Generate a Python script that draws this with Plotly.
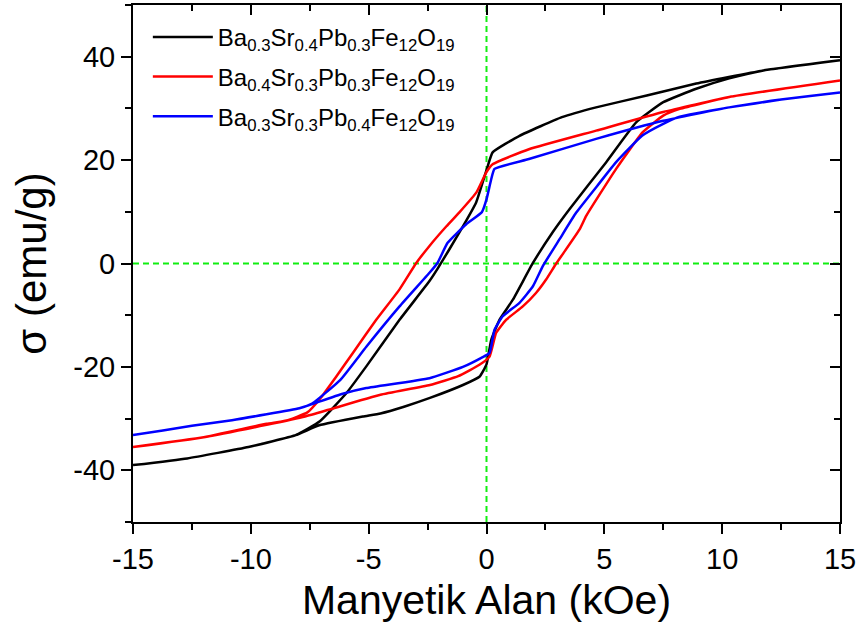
import plotly.graph_objects as go

# ---------------- data ----------------
series_names = [
    "Ba<sub>0.3</sub>Sr<sub>0.4</sub>Pb<sub>0.3</sub>Fe<sub>12</sub>O<sub>19</sub>",
    "Ba<sub>0.4</sub>Sr<sub>0.3</sub>Pb<sub>0.3</sub>Fe<sub>12</sub>O<sub>19</sub>",
    "Ba<sub>0.3</sub>Sr<sub>0.3</sub>Pb<sub>0.4</sub>Fe<sub>12</sub>O<sub>19</sub>",
]
series_colors = ["#000000", "#ff0000", "#0000ff"]

# black: Ba0.3Sr0.4Pb0.3  (upper branch: field decreasing, lower branch: field increasing)
H_up_black = [15, 11.7, 8.9, 6.8, 4.65, 3.2, 1.4, 0.26, 0.05, -0.44, -1.15, -2.1, -2.42, -3.69, -5.1, -5.95, -7.07, -8.1, -10.1, -12.7, -15]
M_up_black = [39.3, 37.3, 34.8, 32.5, 30.2, 28.3, 24.7, 21.5, 18.8, 11.8, 6.0, -1.2, -3.4, -10.9, -19.9, -25.1, -30.5, -33.2, -35.5, -37.7, -39.0]
H_lo_black = [-15, -12.7, -10.1, -8.1, -7.1, -5.25, -4.5, -3.5, -2.4, -1.0, -0.3, 0.0, 0.2, 0.55, 1.12, 1.97, 2.8, 3.52, 5.08, 6.35, 7.5, 8.9, 10.3, 11.7, 15]
M_lo_black = [-39.0, -37.7, -35.5, -33.2, -31.3, -29.6, -29.0, -27.7, -26.0, -23.5, -21.9, -19.5, -14.8, -10.9, -7.0, 0.1, 6.0, 10.5, 19.6, 27.3, 31.2, 33.8, 35.8, 37.3, 39.3]

# red: Ba0.4Sr0.3Pb0.3
H_up_red = [15, 10.3, 7.5, 4.65, 1.8, 0.26, 0.0, -0.42, -1.15, -1.7, -2.42, -2.98, -3.69, -4.68, -5.67, -6.38, -7.07, -7.6, -8.5, -9.33, -12, -15]
M_up_red = [35.4, 32.2, 29.3, 25.7, 22.1, 19.2, 17.7, 13.8, 9.9, 7.2, 3.4, 0.1, -5.0, -10.9, -17.3, -21.9, -26.2, -28.8, -30.4, -31.0, -33.6, -35.5]
H_lo_red = [-15, -12, -9.33, -7.7, -6.7, -4.5, -2.4, -1.2, -0.3, 0.13, 0.41, 0.83, 1.54, 2.1, 2.53, 2.96, 3.95, 4.23, 5.5, 6.63, 7.5, 8.2, 10.3, 15]
M_lo_red = [-35.5, -33.6, -31.2, -29.6, -28.3, -25.4, -23.5, -21.8, -19.6, -18.0, -13.4, -10.9, -8.3, -5.7, -3.1, 0.0, 6.6, 9.2, 18.3, 25.4, 28.6, 29.9, 32.2, 35.4]

# blue: Ba0.3Sr0.3Pb0.4
H_up_blue = [15, 12.5, 10.3, 7.5, 4.65, 1.8, 0.34, 0.2, 0.0, -0.2, -0.86, -1.65, -2.08, -2.42, -3.69, -5.1, -6.2, -7.4, -7.94, -10.8, -12.5, -15]
M_up_blue = [33.1, 31.7, 30.2, 27.6, 24.1, 20.2, 18.3, 16.3, 12.4, 9.9, 7.6, 4.0, 0.1, -1.8, -8.3, -16.1, -22.5, -27.1, -28.0, -30.3, -31.4, -33.2]
H_lo_blue = [-15, -12.5, -10.8, -7.94, -7.4, -6.1, -5.1, -2.42, -1.0, -0.2, 0.13, 0.34, 0.69, 1.4, 1.97, 2.39, 3.1, 3.8, 4.8, 5.5, 6.6, 7.5, 8.2, 10.3, 12.5, 15]
M_lo_blue = [-33.2, -31.4, -30.3, -28.0, -27.2, -25.2, -24.1, -22.2, -20.0, -18.2, -17.3, -12.8, -10.2, -7.6, -4.4, -0.5, 4.7, 9.8, 15.6, 19.6, 24.7, 27.0, 28.4, 30.2, 31.7, 33.1]

x_ticks = [-15, -10, -5, 0, 5, 10, 15]
x_tick_text = ["-15", "-10", "-5", "0", "5", "10", "15"]
y_ticks = [-40, -20, 0, 20, 40]
y_tick_text = ["-40", "-20", "0", "20", "40"]

loops = [
    (H_up_black, M_up_black, H_lo_black, M_lo_black),
    (H_up_red, M_up_red, H_lo_red, M_lo_red),
    (H_up_blue, M_up_blue, H_lo_blue, M_lo_blue),
]

FONT = "Liberation Sans, Arial, sans-serif"

fig = go.Figure()
for i, ((hu, mu, hl, ml), name, col) in enumerate(zip(loops, series_names, series_colors)):
    fig.add_trace(go.Scatter(
        x=hu + hl, y=mu + ml, mode="lines", name=name, legendgroup=f"g{i}",
        line=dict(color=col, width=2.5, shape="spline", smoothing=0.4),
    ))

# dummy trace to activate mirrored top/right axes
fig.add_trace(go.Scatter(x=[], y=[], xaxis="x2", yaxis="y2", showlegend=False, hoverinfo="skip"))

green = "#11ee11"
fig.add_shape(type="line", xref="x", yref="paper", x0=0, x1=0, y0=0, y1=1,
              line=dict(color=green, width=2, dash="6px,4px"), layer="below")
fig.add_shape(type="line", xref="paper", yref="y", x0=0, x1=1, y0=0, y1=0,
              line=dict(color=green, width=2, dash="6px,4px"), layer="below")

common = dict(showgrid=False, zeroline=False, showline=True, linecolor="black", linewidth=2,
              tickcolor="black", tickwidth=2, ticklen=10)

fig.update_layout(
    width=863, height=630,
    margin=dict(l=133, r=23, t=5, b=108),
    paper_bgcolor="white", plot_bgcolor="white",
    font=dict(family=FONT, color="black"),
    showlegend=True,
    legend=dict(x=0.021, y=0.981, xanchor="left", yanchor="top",
                bgcolor="rgba(0,0,0,0)", font=dict(size=24, family=FONT),
                itemwidth=60, tracegroupgap=5.5),
    xaxis=dict(range=[-15, 15], tickvals=x_ticks, ticktext=x_tick_text, ticks="outside",
               tickfont=dict(size=29), minor=dict(dtick=2.5, ticks="outside", ticklen=6, tickwidth=2, tickcolor="black"),
               title=dict(text="Manyetik Alan (kOe)", font=dict(size=41), standoff=12),
               **common),
    yaxis=dict(range=[-50, 50], tickvals=y_ticks, ticktext=y_tick_text, ticks="outside",
               tickfont=dict(size=29), minor=dict(dtick=10, ticks="outside", ticklen=6, tickwidth=2, tickcolor="black"),
               title=dict(text="σ (emu/g)", font=dict(size=42), standoff=14),
               **common),
    xaxis2=dict(range=[-15, 15], overlaying="x", side="top", tickvals=x_ticks, ticks="inside",
                showticklabels=False,
                minor=dict(dtick=2.5, ticks="inside", ticklen=6, tickwidth=2, tickcolor="black"),
                **common),
    yaxis2=dict(range=[-50, 50], overlaying="y", side="right", tickvals=y_ticks, ticks="inside",
                showticklabels=False,
                minor=dict(dtick=10, ticks="inside", ticklen=6, tickwidth=2, tickcolor="black"),
                **common),
)

fig.write_html("out.html")
